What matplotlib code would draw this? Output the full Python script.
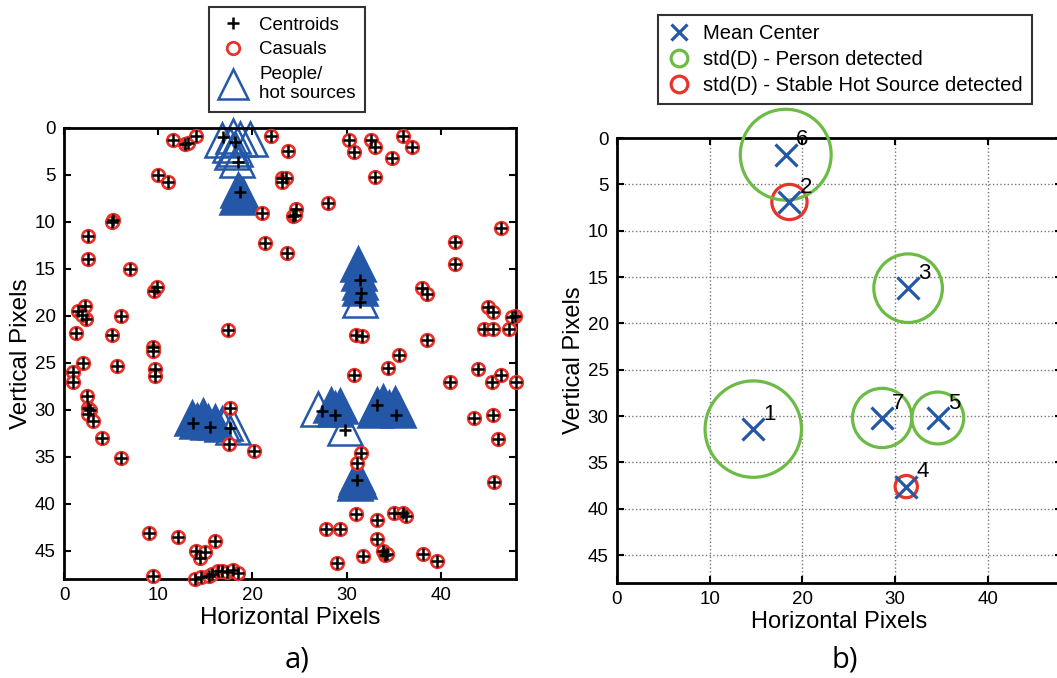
import matplotlib
matplotlib.use("Agg")
import matplotlib.pyplot as plt
from matplotlib.lines import Line2D
from matplotlib.patches import Circle

plt.rcParams['font.family'] = ['Liberation Sans', 'DejaVu Sans']

# ---------------- data: panel a) ----------------
# isolated detections ("casuals")
casual_x = [11.6, 12.8, 13.2, 14.0, 22.0, 10.0, 11.0, 21.0, 21.3, 5.2, 5.1, 2.5, 2.5, 7.0,
            9.6, 9.9, 2.2, 1.5, 2.3, 1.9, 6.0, 1.3, 5.1, 9.4, 9.4, 17.4,
            23.8, 23.2, 23.6, 23.1, 24.6, 24.3, 24.5, 23.7, 28.0, 30.3, 30.8, 32.6, 33.0,
            36.0, 37.0, 34.8, 33.0, 46.4, 41.5, 41.5, 38.0, 38.5, 45.0, 45.6, 47.9, 47.6,
            44.6, 45.6, 47.3, 31.0, 31.6, 38.5, 35.6,
            2.0, 1.0, 1.0, 5.6, 9.7, 9.7, 2.4, 2.5, 2.8, 2.6, 3.1, 4.0, 6.0, 17.6, 17.5,
            20.2, 9.0, 12.1, 14.0, 14.4, 15.0, 16.0, 9.4, 13.9, 14.5, 15.4, 15.7, 16.4,
            16.8, 17.3, 17.9, 18.5,
            34.4, 30.8, 41.0, 44.0, 45.5, 46.4, 48.0, 43.5, 45.6, 46.1, 45.7, 31.5, 31.1,
            31.0, 27.8, 29.3, 33.2, 35.0, 36.0, 36.3, 33.2, 33.9, 34.1, 34.3, 31.7, 29.0,
            38.1, 39.6]
casual_y = [1.3, 1.7, 1.6, 0.9, 0.9, 5.0, 5.7, 9.0, 12.2, 9.8, 10.0, 11.5, 13.9, 15.0,
            17.3, 16.9, 18.9, 19.5, 20.3, 19.9, 20.0, 21.8, 22.0, 23.3, 23.7, 21.5,
            2.5, 5.3, 5.3, 5.7, 8.6, 9.4, 9.3, 13.3, 8.0, 1.3, 2.6, 1.3, 2.0,
            0.9, 2.0, 3.2, 5.2, 10.6, 12.1, 14.5, 17.0, 17.7, 19.0, 19.6, 20.0, 20.1,
            21.4, 21.4, 21.4, 22.0, 22.1, 22.6, 24.2,
            25.0, 26.0, 27.0, 25.3, 25.7, 26.4, 28.5, 29.8, 30.0, 30.4, 31.2, 33.0, 35.1, 29.8, 33.6,
            34.4, 43.1, 43.5, 45.0, 45.8, 45.1, 44.0, 47.7, 48.0, 47.8, 47.7, 47.5, 47.1,
            47.2, 47.3, 47.0, 47.4,
            25.5, 26.3, 27.0, 25.6, 27.0, 26.3, 27.0, 30.9, 30.5, 33.1, 37.7, 34.6, 35.7,
            41.1, 42.7, 42.7, 41.7, 41.0, 41.0, 41.3, 43.7, 45.0, 45.4, 45.3, 45.5, 46.3,
            45.3, 46.1]

# centroids of the grouped detections (people / hot sources)
group_cx = [16.9, 18.2, 18.5, 18.7, 31.4, 31.5, 31.4, 13.7, 15.5, 17.6, 27.4, 28.8, 29.8,
            33.2, 35.3, 31.1]
group_cy = [1.0, 1.5, 3.6, 6.8, 16.2, 17.6, 18.5, 31.4, 31.8, 31.9, 30.1, 30.5, 32.1,
            29.5, 30.5, 37.5]

# people / hot source detections, heavily overlapping ones
hot_dense_x = [18.5, 18.7, 19.0, 18.4, 31.2, 31.3, 31.4, 31.4, 13.6, 14.1, 14.8, 15.3, 16.0,
               28.4, 28.8, 29.3, 33.2, 33.9, 35.1, 34.5, 35.5, 33.0, 31.1, 31.0, 31.3, 30.9]
hot_dense_y = [6.6, 6.9, 7.2, 7.3, 14.5, 15.4, 16.4, 17.0, 30.9, 31.2, 30.7, 31.3, 31.3,
               29.5, 29.9, 29.6, 29.5, 29.2, 29.4, 29.8, 30.0, 30.0, 37.0, 37.4, 37.6, 37.8]
# people / hot source detections, sparse ones
hot_open_x = [16.8, 17.9, 18.7, 19.7, 17.6, 18.4, 17.8, 18.2, 31.4, 16.8, 17.1, 17.9, 27.0, 29.8]
hot_open_y = [1.3, 0.9, 1.2, 1.2, 1.8, 3.4, 2.6, 2.2, 18.3, 31.5, 31.4, 31.8, 29.9, 31.9]

# ---------------- data: panel b) ----------------
cluster_id = [1, 2, 3, 4, 5, 6, 7]
mean_x = [14.7, 18.6, 31.4, 31.2, 34.6, 18.2, 28.6]
mean_y = [31.4, 6.9, 16.2, 37.6, 30.2, 1.8, 30.2]
std_d = [5.2, 1.9, 3.7, 1.2, 2.8, 4.9, 3.2]
is_person = [True, False, True, False, True, True, True]

BLUE = '#2457a8'
RED = '#e8332b'
GREEN = '#6cbb45'

W, H = 1057, 678
fig = plt.figure(figsize=(W / 100, H / 100), dpi=100)

# ---------------- panel a) ----------------
TRI_MS = 24
axa = fig.add_axes([64 / W, 99 / H, 452 / W, 451 / H])
axa.plot(hot_open_x, hot_open_y, ls='none', marker='^', ms=TRI_MS, mfc='none', mec=BLUE,
         mew=1.8, clip_on=False, zorder=2)
axa.plot(hot_dense_x, hot_dense_y, ls='none', marker='^', ms=TRI_MS, mfc=BLUE, mec=BLUE,
         mew=1.8, clip_on=False, zorder=2)
axa.plot(casual_x, casual_y, ls='none', marker='o', ms=9, mfc='white', mec=RED,
         mew=2.0, clip_on=False, zorder=3)
axa.plot(casual_x + group_cx, casual_y + group_cy, ls='none', marker='+', ms=8, mec='black',
         mew=1.8, clip_on=False, zorder=4)

axa.set_xlim(0, 48)
axa.set_ylim(48, 0)
axa.set_xticks([0, 10, 20, 30, 40])
axa.set_yticks([0, 5, 10, 15, 20, 25, 30, 35, 40, 45])
axa.tick_params(direction='in', top=True, right=True, length=5, width=1.5,
                labelsize=13.5, pad=6)
for s in axa.spines.values():
    s.set_linewidth(2)
axa.set_xlabel('Horizontal Pixels', fontsize=17.5, labelpad=2)
axa.set_ylabel('Vertical Pixels', fontsize=17.5, labelpad=2)

h_a = [Line2D([], [], ls='none', marker='+', ms=8, mec='black', mew=1.8),
       Line2D([], [], ls='none', marker='o', ms=9, mfc='none', mec=RED, mew=2.0),
       Line2D([], [], ls='none', marker='^', ms=21, mfc='none', mec=BLUE, mew=1.8)]
leg_a = fig.legend(h_a, ['Centroids', 'Casuals', 'People/\nhot sources'],
                   loc='upper center', bbox_to_anchor=(287 / W, 1 - 7 / H),
                   fontsize=13.5, frameon=True, fancybox=False, edgecolor='black',
                   handlelength=1.6, handletextpad=0.6, labelspacing=0.4,
                   borderpad=0.5, borderaxespad=0)
leg_a.get_frame().set_linewidth(1.5)

fig.text(297 / W, 1 - 660 / H, 'a)', fontsize=21, ha='center', va='center',
         family=['Open Sans', 'DejaVu Sans'])

# ---------------- panel b) ----------------
axb = fig.add_axes([617 / W, 95 / H, 445 / W, 445 / H])
axb.set_xlim(0, 48)
axb.set_ylim(48, 0)
axb.set_aspect('equal')
for cid, x, y, r, person in zip(cluster_id, mean_x, mean_y, std_d, is_person):
    axb.add_patch(Circle((x, y), r, fill=False, ec=GREEN if person else RED, lw=2.3,
                         clip_on=False, zorder=3))
    axb.text(x + 1.1, y - 1.0, str(cid), fontsize=16, ha='left', va='baseline', zorder=5)
axb.plot(mean_x, mean_y, ls='none', marker='x', ms=16, mec=BLUE, mew=2.3,
         clip_on=False, zorder=4)

axb.set_xticks([0, 10, 20, 30, 40])
axb.set_yticks([0, 5, 10, 15, 20, 25, 30, 35, 40, 45])
axb.grid(True, ls=':', color='#777777', lw=1)
axb.set_axisbelow(True)
axb.tick_params(direction='in', top=True, right=True, length=5, width=1.5,
                labelsize=13.5, pad=6)
for s in axb.spines.values():
    s.set_linewidth(2)
axb.set_xlabel('Horizontal Pixels', fontsize=17, labelpad=2)
axb.set_ylabel('Vertical Pixels', fontsize=17, labelpad=2)

h_b = [Line2D([], [], ls='none', marker='x', ms=11, mec=BLUE, mew=2.3),
       Line2D([], [], ls='none', marker='o', ms=12, mfc='none', mec=GREEN, mew=2.3),
       Line2D([], [], ls='none', marker='o', ms=12, mfc='none', mec=RED, mew=2.3)]
leg_b = fig.legend(h_b, ['Mean Center', 'std(D) - Person detected',
                         'std(D) - Stable Hot Source detected'],
                   loc='upper center', bbox_to_anchor=(845 / W, 1 - 15 / H),
                   fontsize=14.5, frameon=True, fancybox=False, edgecolor='black',
                   handlelength=1.2, handletextpad=0.6, labelspacing=0.35,
                   borderpad=0.45, borderaxespad=0)
leg_b.get_frame().set_linewidth(1.5)

fig.text(845 / W, 1 - 660 / H, 'b)', fontsize=21, ha='center', va='center',
         family=['Open Sans', 'DejaVu Sans'])

fig.savefig('out.png', dpi=100)
